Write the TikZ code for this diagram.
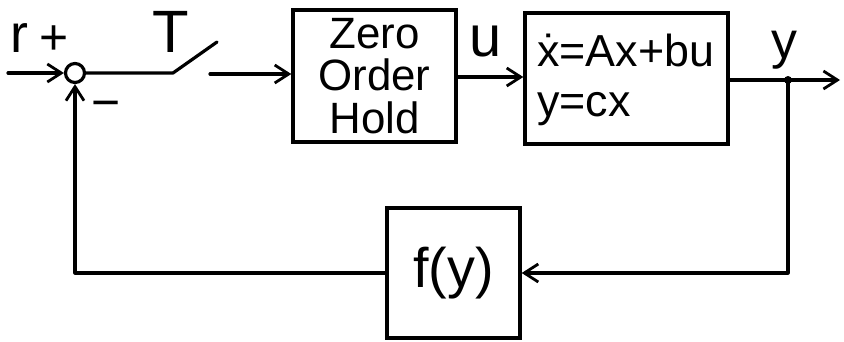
\documentclass[tikz,border=0pt]{standalone}
\usepackage{fontspec}
\setmainfont{Liberation Sans}
\usetikzlibrary{arrows.meta}
\tikzset{
  wire/.style={line width=3.2bp, line cap=round, line join=round},
  flow/.style={wire, -{Straight Barb[length=14bp, width=18bp, line width=2.8bp]}},
  blockbox/.style={draw, line width=3.4bp, inner sep=0pt},
  lbl/.style={inner sep=0pt, font=\fontsize{44}{43}\selectfont},
  sumnode/.style={circle, draw, line width=3.2bp, minimum size=19bp, inner sep=0pt},
}
\begin{document}
\begin{tikzpicture}[x=1bp, y=-1bp]
  \useasboundingbox (0,0) rectangle (844,341);

  % blocks
  \node[sumnode] (sum) at (75,73) {};
  \node[blockbox, minimum width=163bp, minimum height=132bp] (zoh) at (374.5,76) {};
  \node[lbl, align=center] (zohtxt) at (zoh.center) {Zero\\Order\\Hold};
  \node[blockbox, minimum width=203bp, minimum height=131bp] (plant) at (626.5,78.5) {};
  \node[lbl, align=left, anchor=west, font=\fontsize{45}{50}\selectfont] (planttxt) at (537,80)
    {ẋ=Ax+bu\\y=cx};
  \node[blockbox, minimum width=133bp, minimum height=130bp] (fy) at (453.5,273) {};
  \node[lbl, font=\fontsize{56}{56}\selectfont] (fytxt) at (fy.center) {f(y)};

  % free ends and the sampler
  \coordinate (in) at (8,73);
  \coordinate (swa) at (173,73);
  \coordinate (swb) at (217,42);
  \coordinate (swc) at (210,74);
  \coordinate (out) at (840,80);
  \coordinate (tap) at (788,80);

  % forward path
  \draw[flow] (in) -- (sum.west);
  \draw[wire] (sum.east) -- (swa) -- (swb);
  \draw[flow] (swc) -- (swc -| zoh.west);
  \draw[flow] (zoh.east |- 0,77) -- (plant.west |- 0,77);
  \draw[flow] (plant.east |- tap) -- (out);
  \fill (tap) circle (4bp);

  % feedback path
  \draw[flow] (tap) |- (fy.east);
  \draw[flow] (fy.west) -| (sum.south);

  % labels
  \node[lbl, font=\fontsize{54}{54}\selectfont] (rl) at (19,38) {r};
  \node[lbl, font=\fontsize{50}{50}\selectfont] (plus) at (54,40) {+};
  \node[lbl, font=\fontsize{50}{50}\selectfont] (minus) at (106,110) {−};
  \node[lbl, font=\fontsize{60}{60}\selectfont] (tl) at (171,32) {T};
  \node[lbl, font=\fontsize{58}{58}\selectfont] (ul) at (486,42) {u};
  \node[lbl, font=\fontsize{52}{52}\selectfont] (yl) at (784,50) {y};
\end{tikzpicture}
\end{document}
